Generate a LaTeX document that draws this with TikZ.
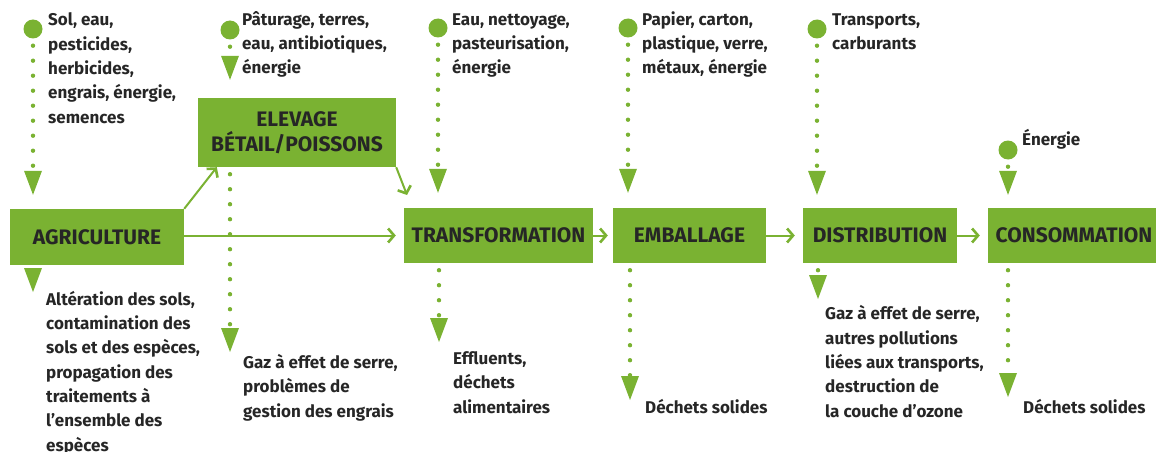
\documentclass[tikz,border=0pt]{standalone}
\usepackage{fontspec}
\setmainfont{Fira Sans}
\usetikzlibrary{arrows.meta,calc}
\definecolor{leaf}{RGB}{122,178,50}
\definecolor{ink}{RGB}{38,38,38}

\begin{document}
\begin{tikzpicture}[x=1pt, y=-1pt,
  box/.style={fill=leaf, inner sep=0pt, text=ink, align=center, font=\fontsize{21}{25}\selectfont\bfseries},
  note/.style={anchor=base west, inner sep=0pt, text=ink, align=left, font=\fontsize{17}{24.3}\selectfont\bfseries},
  src/.style={circle, fill=leaf, minimum size=19pt, inner sep=0pt},
  flow/.style={draw=leaf, line width=2pt, -{Straight Barb[length=6pt,width=14pt,line width=2.6pt]}},
  feed/.style={draw=leaf, line width=4.4pt, line cap=round, dash pattern=on 0pt off 15pt, dash phase=8pt, -{Triangle[width=18pt,length=24pt,line width=0pt]}}]

\useasboundingbox (0,0) rectangle (1156,452);

% the chain of stages
\node [box, minimum width=174pt, minimum height=56pt] (agri) at (97,237) {AGRICULTURE};
\node [box, minimum width=198pt, minimum height=69pt] (elev) at (297,132.5) {ELEVAGE\\BÉTAIL/POISSONS};
\node [box, minimum width=189pt, minimum height=55pt] (trans) at (498.5,235.5) {TRANSFORMATION};
\node [box, minimum width=153pt, minimum height=55pt] (emb) at (689.5,235.5) {EMBALLAGE};
\node [box, minimum width=154pt, minimum height=55pt] (dist) at (880,235.5) {DISTRIBUTION};
\node [box, minimum width=172pt, minimum height=55pt] (cons) at (1074,235.5) {CONSOMMATION};

\coordinate (t2) at (407,195);
\draw [flow] (agri.north east) -- ($(elev.south west)+(19,0)$);
\draw [flow] (elev.south east) -- (t2);
\draw [flow, shorten >=8pt] (agri.east |- trans.west) -- (trans.west);
\draw [flow, shorten >=5pt] (trans.east) -- (emb.west);
\draw [flow, shorten >=8pt] (emb.east) -- (dist.west);
\draw [flow, shorten >=8pt] (dist.east) -- (cons.west);

% inputs
\node [src] (s1) at (33,29) {};
\node [src] (s2) at (230,30) {};
\node [src] (s3) at (438,28) {};
\node [src] (s4) at (628,28) {};
\node [src] (s5) at (817,29) {};
\node [src] (s6) at (1008,150) {};

\draw [feed, shorten >=14pt] (s1) -- (agri.north -| s1);
\draw [feed, shorten >=18pt] (s2) -- (elev.north -| s2);
\draw [feed, shorten >=15pt] (s3) -- (trans.north -| s3);
\draw [feed, shorten >=15pt] (s4) -- (emb.north -| s4);
\draw [feed, shorten >=13pt] (s5) -- (dist.north -| s5);
\draw [feed, shorten >=13pt] (s6) -- (cons.north -| s6);

% text nodes sit on the baseline of their last line
\node [note] (n1) at (48,123) {Sol, eau,\\pesticides,\\herbicides,\\engrais, énergie,\\semences};
\node [note] (n2) at (242,74) {Pâturage, terres,\\eau, antibiotiques,\\énergie};
\node [note] (n3) at (452,74) {Eau, nettoyage,\\pasteurisation,\\énergie};
\node [note] (n4) at (642,74) {Papier, carton,\\plastique, verre,\\métaux, énergie};
\node [note] (n5) at (832,50) {Transports,\\carburants};
\node [note] (n6) at (1022,145) {Énergie};

% outputs
\coordinate (o1) at (33,292);
\coordinate (o2) at (230,352);
\coordinate (o3) at (439,342);
\coordinate (o4) at (630,400);
\coordinate (o5) at (818,299);
\coordinate (o6) at (1008,397);

\draw [feed] (agri.south -| o1) -- (o1);
\draw [feed] (elev.south -| o2) -- (o2);
\draw [feed] (trans.south -| o3) -- (o3);
\draw [feed] (emb.south -| o4) -- (o4);
\draw [feed] (dist.south -| o5) -- (o5);
\draw [feed] (cons.south -| o6) -- (o6);

\node [note] (m1) at (46,451) {Altération des sols,\\contamination des\\sols et des espèces,\\propagation des\\traitements à\\l’ensemble des\\espèces};
\node [note] (m2) at (243,417) {Gaz à effet de serre,\\problèmes de\\gestion des engrais};
\node [note] (m3) at (453,413) {Effluents,\\déchets\\alimentaires};
\node [note] (m4) at (645,413) {Déchets solides};
\node [note] (m5) at (825,417) {Gaz à effet de serre,\\autres pollutions\\liées aux transports,\\destruction de\\la couche d’ozone};
\node [note] (m6) at (1023,413) {Déchets solides};

\end{tikzpicture}
\end{document}
